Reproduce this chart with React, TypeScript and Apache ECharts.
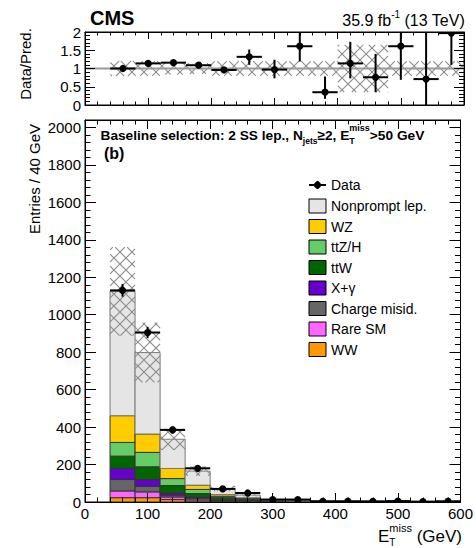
import React, { useEffect, useRef } from 'react';
import * as echarts from 'echarts';

// ---------- data ----------
const binEdges = [40, 80, 120, 160, 200, 240, 280, 320, 360, 400, 440, 480, 520, 560, 600];
// stacked predictions per bin (bottom to top)
const ww = [23, 23, 13, 6, 2, 1, 0.5, 0.3, 0.2, 0.1, 0.1, 0.1, 0.1, 0.05];
const rareSM = [36, 31, 14, 10, 3, 1.5, 0.7, 0.4, 0.4, 0.2, 0.2, 0.1, 0.1, 0.1];
const chargeMisid = [61, 30, 9, 6, 3, 1.5, 0.5, 0.3, 0.2, 0.1, 0.1, 0.1, 0.1, 0.05];
const xGamma = [59, 36, 12, 5, 4, 2, 1, 0.5, 0.4, 0.2, 0.3, 0.2, 0.2, 0.1];
const ttW = [66, 68, 40, 18, 11, 7, 3, 2, 1.8, 0.9, 1, 0.8, 0.7, 0.5];
const ttZH = [73, 77, 37, 22, 8, 5, 2.3, 1.5, 1.3, 0.7, 0.8, 0.6, 0.6, 0.4];
const wz = [143, 98, 54, 23, 9, 5, 2, 1.2, 1, 0.5, 0.6, 0.5, 0.4, 0.3];
const nonprompt = [664, 435, 156, 75, 32, 14, 4, 1.8, 1.7, 0.8, 0.9, 0.6, 0.6, 0.5];
const dataCounts = [1130, 905, 385, 180, 70, 48, 13, 13, 3, 4, 3, 5, 2, 4];
// relative systematic uncertainty of the prediction
const relUnc = [0.21, 0.2, 0.17, 0.15, 0.2, 0.2, 0.2, 0.2, 0.2, 0.65, 0.65, 0.2, 0.2, 0.2];
// ratio panel
const ratioValues = [1.0, 1.14, 1.16, 1.09, 0.96, 1.32, 0.97, 1.61, 0.35, 1.14, 0.76, 1.61, 0.71, 1.97];
const ratioLow = [0.97, 1.10, 1.12, 1.04, 0.89, 1.10, 0.73, 1.19, 0.17, 0.73, 0.35, 0.69, 0.0, 1.10];
const ratioHigh = [1.03, 1.18, 1.21, 1.15, 1.04, 1.52, 1.24, 2.6, 0.78, 1.73, 1.40, 2.6, 2.6, 2.6];
const ratioReference = 1;

const processNames = ['Nonprompt lep.', 'WZ', 'ttZ/H', 'ttW', 'X+\u03b3', 'Charge misid.', 'Rare SM', 'WW'];
const processColors = ['#e5e5e5', '#ffcc00', '#66cc66', '#006600', '#6600cc', '#666666', '#ff66ff', '#ff9900'];
const processValues = [nonprompt, wz, ttZH, ttW, xGamma, chargeMisid, rareSM, ww];

const xTicksMax = 600;
const mainYMax = 2040;

const FONT = '"Liberation Sans", Arial, Helvetica, sans-serif';

function measure(t: string, size: number, bold: boolean) {
  const c = document.createElement('canvas').getContext('2d')!;
  c.font = `${bold ? 'bold ' : ''}${size}px "Liberation Sans", Arial`;
  return c.measureText(t).width;
}

type Part = { t: string; s: number; dy?: number; stack?: boolean };
function seq(x0: number, y: number, parts: Part[], bold: boolean, anchorRight = false) {
  const laid: { t: string; s: number; x: number; dy: number }[] = [];
  let x = 0, lastStart = 0, lastW = 0;
  for (const p of parts) {
    const w = measure(p.t, p.s, bold);
    if (p.stack) {
      laid.push({ t: p.t, s: p.s, x: lastStart, dy: p.dy || 0 });
      x = Math.max(lastStart + lastW, lastStart + w);
    } else {
      laid.push({ t: p.t, s: p.s, x, dy: p.dy || 0 });
      lastStart = x; lastW = w;
      x = x + w;
    }
  }
  const shift = anchorRight ? x0 - x : x0;
  return laid.map((l) => ({
    type: 'text', silent: true, z: 20,
    x: shift + l.x, y: y + l.dy,
    style: { text: l.t, fontSize: l.s, fontWeight: bold ? 'bold' : 'normal', fontFamily: FONT, fill: '#000', align: 'left', verticalAlign: 'middle' },
  }));
}

function hatchItem(params: any, api: any) {
  const lo = api.value(0), hi = api.value(1), yl = api.value(2), yh = api.value(3);
  const p0 = api.coord([lo, yl]);
  const p1 = api.coord([hi, yh]);
  const cs = params.coordSys;
  const x0 = p0[0], x1 = p1[0];
  const yTop = Math.max(p1[1], cs.y);
  const yBot = Math.min(p0[1], cs.y + cs.height);
  const s = 12;
  const children: any[] = [];
  const st = { stroke: '#8c8c8c', lineWidth: 1.1 };
  const cMin = yTop - x1, cMax = yBot - x0;
  for (let c = Math.ceil(cMin / s) * s; c <= cMax; c += s) {
    const xa = Math.max(x0, yTop - c), xb = Math.min(x1, yBot - c);
    if (xb > xa) children.push({ type: 'line', silent: true, shape: { x1: xa, y1: xa + c, x2: xb, y2: xb + c }, style: st });
  }
  const dMin = yTop + x0, dMax = yBot + x1;
  for (let c = Math.ceil(dMin / s) * s; c <= dMax; c += s) {
    const xa = Math.max(x0, c - yBot), xb = Math.min(x1, c - yTop);
    if (xb > xa) children.push({ type: 'line', silent: true, shape: { x1: xa, y1: c - xa, x2: xb, y2: c - xb }, style: st });
  }
  return { type: 'group', children };
}

function pointItem(r: number) {
  return (params: any, api: any) => {
    const x = api.value(0), y = api.value(1), xl = api.value(2), xh = api.value(3), yl = api.value(4), yh = api.value(5);
    const pc = api.coord([x, y]);
    const pl = api.coord([xl, y]);
    const ph = api.coord([xh, y]);
    const pyl = api.coord([x, yl]);
    const pyh = api.coord([x, yh]);
    const st = { stroke: '#000', lineWidth: 2 };
    return {
      type: 'group',
      children: [
        { type: 'line', shape: { x1: pl[0], y1: pc[1], x2: ph[0], y2: pc[1] }, style: st },
        { type: 'line', shape: { x1: pc[0], y1: pyl[1], x2: pc[0], y2: pyh[1] }, style: st },
        { type: 'circle', shape: { cx: pc[0], cy: pc[1], r }, style: { fill: '#000' } },
      ],
    };
  };
}

function xAxisDef(gridIndex: number, position: string, labels: boolean, tick: number) {
  return {
    type: 'value', gridIndex, position, min: 0, max: xTicksMax, interval: 100, z: 8,
    axisLine: { show: true, onZero: false, lineStyle: { color: '#000', width: 1 } },
    axisTick: { show: true, inside: true, length: tick, lineStyle: { color: '#000', width: 1 } },
    minorTick: { show: true, splitNumber: 5, length: tick / 2, lineStyle: { color: '#000', width: 1 } },
    axisLabel: { show: labels, fontSize: 15, fontFamily: FONT, color: '#000', margin: 4 },
    splitLine: { show: false },
  };
}

function yAxisDef(gridIndex: number, position: string, labels: boolean, max: number, interval: number, tick: number) {
  return {
    type: 'value', gridIndex, position, min: 0, max, interval, z: 8,
    axisLine: { show: true, onZero: false, lineStyle: { color: '#000', width: 1 } },
    axisTick: { show: true, inside: true, length: tick, lineStyle: { color: '#000', width: 1 } },
    minorTick: { show: true, splitNumber: 5, length: tick / 2, lineStyle: { color: '#000', width: 1 } },
    axisLabel: {
      show: labels, fontSize: 15, fontFamily: FONT, color: '#000', margin: 4, showMaxLabel: max !== 2040 ? true : false,
      formatter: (v: number) => (Math.abs(v / interval - Math.round(v / interval)) < 1e-6 ? String(v) : ''),
    },
    splitLine: { show: false },
  };
}

function buildOption() {
  const nb = binEdges.length - 1;
  const series: any[] = [];
  const cum = new Array(nb).fill(0);
  for (let k = processValues.length - 1; k >= 0; k--) {
    const vals = processValues[k];
    const d = [] as number[][];
    for (let i = 0; i < nb; i++) {
      d.push([binEdges[i], binEdges[i + 1], cum[i], cum[i] + vals[i]]);
      cum[i] += vals[i];
    }
    const color = processColors[k];
    const stroke = k === 0 ? '#7a7a7a' : '#333';
    series.push({
      type: 'custom', name: processNames[k], xAxisIndex: 2, yAxisIndex: 2, z: 2, silent: true,
      encode: { x: [0, 1], y: [2, 3] },
      renderItem: (params: any, api: any) => {
        const p0 = api.coord([api.value(0), api.value(2)]);
        const p1 = api.coord([api.value(1), api.value(3)]);
        return {
          type: 'rect',
          shape: { x: p0[0], y: p1[1], width: p1[0] - p0[0], height: p0[1] - p1[1] },
          style: { fill: color, stroke, lineWidth: 1 },
        };
      },
      data: d,
    });
  }
  const totals = cum.slice();
  series.push({
    type: 'custom', name: 'unc', xAxisIndex: 2, yAxisIndex: 2, z: 3, silent: true, clip: true,
    encode: { x: [0, 1], y: [2, 3] },
    renderItem: hatchItem,
    data: totals.map((t, i) => [binEdges[i], binEdges[i + 1], t * (1 - relUnc[i]), t * (1 + relUnc[i])]),
  });
  series.push({
    type: 'custom', name: 'Data', xAxisIndex: 2, yAxisIndex: 2, z: 5, silent: true, clip: true,
    encode: { x: 0, y: 1 },
    renderItem: pointItem(3.6),
    data: dataCounts.map((n, i) => {
      const e = Math.sqrt(n);
      return [(binEdges[i] + binEdges[i + 1]) / 2, n, binEdges[i], binEdges[i + 1], Math.max(0, n - e), n + e];
    }),
  });
  series.push({
    type: 'custom', name: 'ratioUnc', xAxisIndex: 0, yAxisIndex: 0, z: 3, silent: true, clip: true,
    encode: { x: [0, 1], y: [2, 3] },
    renderItem: hatchItem,
    data: relUnc.map((u, i) => [binEdges[i], binEdges[i + 1], ratioReference - u, ratioReference + u]),
  });
  series.push({
    type: 'line', xAxisIndex: 0, yAxisIndex: 0, z: 3, silent: true, symbol: 'none',
    lineStyle: { color: '#999', width: 2 },
    data: [[0, ratioReference], [xTicksMax, ratioReference]],
  });
  series.push({
    type: 'custom', name: 'Ratio', xAxisIndex: 0, yAxisIndex: 0, z: 5, silent: true, clip: true,
    encode: { x: 0, y: 1 },
    renderItem: pointItem(3.6),
    data: ratioValues.map((r, i) => [(binEdges[i] + binEdges[i + 1]) / 2, r, binEdges[i], binEdges[i + 1], ratioLow[i], ratioHigh[i]]),
  });

  const graphics: any[] = [];
  const lx = 309, tx = 331;
  graphics.push({ type: 'line', silent: true, z: 20, shape: { x1: lx, y1: 185, x2: lx + 17, y2: 185 }, style: { stroke: '#000', lineWidth: 2 } });
  graphics.push({ type: 'line', silent: true, z: 20, shape: { x1: lx + 8.5, y1: 181, x2: lx + 8.5, y2: 189 }, style: { stroke: '#000', lineWidth: 2 } });
  graphics.push({ type: 'circle', silent: true, z: 20, shape: { cx: lx + 8.5, cy: 185, r: 3.6 }, style: { fill: '#000' } });
  graphics.push({ type: 'text', silent: true, z: 20, x: tx, y: 185, style: { text: 'Data', fontSize: 14, fontFamily: FONT, fill: '#000', verticalAlign: 'middle' } });
  processNames.forEach((n, k) => {
    const cy = 206 + k * 20.5;
    graphics.push({ type: 'rect', silent: true, z: 20, shape: { x: lx, y: cy - 7, width: 17, height: 14 }, style: { fill: processColors[k], stroke: '#000', lineWidth: 1 } });
    graphics.push({ type: 'text', silent: true, z: 20, x: tx, y: cy, style: { text: n, fontSize: 14, fontFamily: FONT, fill: '#000', verticalAlign: 'middle' } });
  });
  graphics.push(...seq(90, 18, [{ t: 'CMS', s: 20 }], true));
  graphics.push(...seq(465, 20, [{ t: '35.9 fb', s: 16 }, { t: '-1', s: 10, dy: -6 }, { t: ' (13 TeV)', s: 16 }], false, true));
  graphics.push(...seq(100.5, 135, [
    { t: 'Baseline selection: 2 SS lep., N', s: 13.7 },
    { t: 'jets', s: 8.5, dy: 6 },
    { t: '\u22652, E', s: 13.7 },
    { t: 'T', s: 9, dy: 6 },
    { t: 'miss', s: 9, dy: -7, stack: true },
    { t: '>50 GeV', s: 13.7 },
  ], true));
  graphics.push(...seq(104, 153, [{ t: '(b)', s: 16 }], true));
  graphics.push(...seq(378, 536, [
    { t: 'E', s: 17 },
    { t: 'T', s: 10, dy: 6 },
    { t: 'miss', s: 11, dy: -8, stack: true },
    { t: ' (GeV)', s: 17 },
  ], false));
  graphics.push({ type: 'text', silent: true, z: 20, x: 25, y: 64, rotation: Math.PI / 2, style: { text: 'Data/Pred.', fontSize: 15, fontFamily: FONT, fill: '#000', align: 'center', verticalAlign: 'middle' } });
  graphics.push({ type: 'text', silent: true, z: 20, x: 34, y: 179, rotation: Math.PI / 2, style: { text: 'Entries / 40 GeV', fontSize: 15, fontFamily: FONT, fill: '#000', align: 'center', verticalAlign: 'middle' } });

  return {
    animation: false,
    backgroundColor: '#fff',
    grid: [
      { left: 85, top: 32, width: 379, height: 73, show: true, borderColor: '#000', borderWidth: 1, backgroundColor: 'transparent' },
      { left: 85, top: 120, width: 379, height: 382, show: true, borderColor: '#000', borderWidth: 1, backgroundColor: 'transparent' },
    ],
    xAxis: [
      xAxisDef(0, 'bottom', false, 7),
      xAxisDef(0, 'top', false, 7),
      xAxisDef(1, 'bottom', true, 9),
      xAxisDef(1, 'top', false, 9),
    ],
    yAxis: [
      yAxisDef(0, 'left', true, 2, 0.5, 10),
      yAxisDef(0, 'right', false, 2, 0.5, 10),
      yAxisDef(1, 'left', true, mainYMax, 200, 11),
      yAxisDef(1, 'right', false, mainYMax, 200, 11),
    ],
    series,
    graphic: graphics,
  };
}

export default function App() {
  const ref = useRef<HTMLDivElement>(null);
  useEffect(() => {
    if (!ref.current) return;
    const chart = echarts.init(ref.current, null, { renderer: 'svg' });
    chart.setOption(buildOption() as any);
    return () => chart.dispose();
  }, []);
  return <div ref={ref} style={{ position: 'absolute', left: 0, top: 0, width: 476, height: 548 }} />;
}
